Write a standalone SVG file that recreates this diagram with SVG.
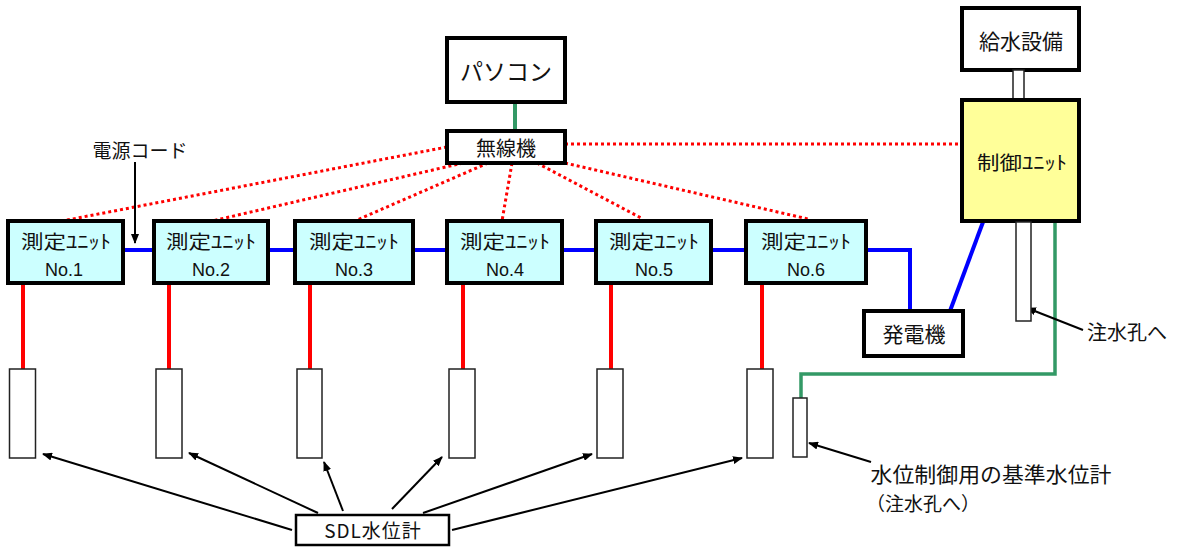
<svg xmlns="http://www.w3.org/2000/svg" width="1178" height="547" viewBox="0 0 1178 547">
<defs>
<marker id="ah" markerWidth="10" markerHeight="8" refX="9" refY="4" orient="auto" markerUnits="userSpaceOnUse">
<path d="M0,0 L10,4 L0,8 Z" fill="#000"/>
</marker>
<style>
text{font-family:"Noto Sans CJK JP","Noto Sans",sans-serif;fill:#111;text-anchor:middle}
.box{fill:#fff;stroke:#000;stroke-width:4}
.unit{fill:#ccffff;stroke:#000;stroke-width:4}
.sens{fill:#fff;stroke:#222;stroke-width:1.5}
.red{stroke:#ff0000;stroke-width:4;fill:none}
.blue{stroke:#0000ff;stroke-width:4;fill:none}
.dot{stroke:#ff0000;stroke-width:3;stroke-dasharray:3 3;fill:none}
.arr{stroke:#000;stroke-width:2;fill:none;marker-end:url(#ah)}
.ut{font-size:19px}
.un{font-size:18px;font-family:"Liberation Sans",Arial,sans-serif}
</style>
</defs>
<rect width="1178" height="547" fill="#fff"/>

<g id="connectors">
<line x1="515" y1="102" x2="515" y2="131" stroke="#339966" stroke-width="4"/>
<line class="dot" x1="447" y1="147" x2="62" y2="221"/>
<line class="dot" x1="463" y1="163" x2="212" y2="221"/>
<line class="dot" x1="488" y1="163" x2="357" y2="220"/>
<line class="dot" x1="512" y1="163" x2="502" y2="221"/>
<line class="dot" x1="537" y1="163" x2="643" y2="219"/>
<line class="dot" x1="565" y1="163" x2="808" y2="219"/>
<line class="dot" x1="565" y1="144" x2="962" y2="144"/>
<line class="blue" x1="123" y1="250" x2="154" y2="250"/>
<line class="blue" x1="268" y1="250" x2="295" y2="250"/>
<line class="blue" x1="413" y1="250" x2="447" y2="250"/>
<line class="blue" x1="562" y1="250" x2="596" y2="250"/>
<line class="blue" x1="711" y1="250" x2="746" y2="250"/>
<polyline class="blue" points="866,250 910,250 910,311"/>
<line class="blue" x1="950" y1="311" x2="983" y2="222"/>
<line class="red" x1="23" y1="283" x2="23" y2="369"/>
<line class="red" x1="169" y1="283" x2="169" y2="369"/>
<line class="red" x1="310" y1="283" x2="310" y2="369"/>
<line class="red" x1="463" y1="283" x2="463" y2="369"/>
<line class="red" x1="611" y1="283" x2="611" y2="369"/>
<line class="red" x1="762" y1="283" x2="762" y2="369"/>
<polyline points="1055,222 1055,374 801,374 801,398" fill="none" stroke="#339966" stroke-width="3.5"/>
<line class="arr" x1="135" y1="162" x2="135" y2="243"/>
<line class="arr" x1="292" y1="530" x2="43" y2="454"/>
<line class="arr" x1="318" y1="513" x2="189" y2="453"/>
<line class="arr" x1="343" y1="511" x2="324" y2="462"/>
<line class="arr" x1="392" y1="509" x2="442" y2="457"/>
<line class="arr" x1="423" y1="513" x2="592" y2="454"/>
<line class="arr" x1="452" y1="530" x2="742" y2="458"/>
<line class="arr" x1="871" y1="462" x2="809" y2="443"/>
<line class="arr" x1="1083" y1="330" x2="1027" y2="308"/>
</g>

<g id="pc"><rect class="box" x="447" y="38" width="118" height="64"/><text x="506" y="80" font-size="23">パソコン</text></g>
<g id="wireless"><rect class="box" x="447" y="131" width="118" height="32"/><text x="506" y="156" font-size="20">無線機</text></g>
<g id="water-supply"><rect class="box" x="962" y="8" width="117" height="62"/><text x="1021" y="49" font-size="21">給水設備</text></g>
<g id="pipe"><rect x="1013" y="70" width="11" height="30" fill="#fff" stroke="#222" stroke-width="1.5"/></g>
<g id="control"><rect x="962" y="100" width="117" height="121" fill="#ffff99" stroke="#000" stroke-width="4"/><text x="1022" y="170" font-size="19" textLength="90" lengthAdjust="spacingAndGlyphs">制御ﾕﾆｯﾄ</text></g>
<g id="inject-pipe"><rect x="1016" y="222" width="15" height="99" fill="#fff" stroke="#222" stroke-width="1.5"/></g>
<g id="generator"><rect class="box" x="864" y="311" width="99" height="45"/><text x="914" y="342" font-size="21">発電機</text></g>

<g id="unit1"><rect class="unit" x="8" y="221" width="115" height="62"/><text class="ut" x="66" y="249" textLength="90" lengthAdjust="spacingAndGlyphs">測定ﾕﾆｯﾄ</text><text class="un" x="64" y="276">No.1</text></g>
<g id="unit2"><rect class="unit" x="154" y="221" width="114" height="62"/><text class="ut" x="211" y="249" textLength="90" lengthAdjust="spacingAndGlyphs">測定ﾕﾆｯﾄ</text><text class="un" x="211" y="276">No.2</text></g>
<g id="unit3"><rect class="unit" x="295" y="221" width="118" height="62"/><text class="ut" x="354" y="249" textLength="90" lengthAdjust="spacingAndGlyphs">測定ﾕﾆｯﾄ</text><text class="un" x="354" y="276">No.3</text></g>
<g id="unit4"><rect class="unit" x="447" y="221" width="115" height="62"/><text class="ut" x="505" y="249" textLength="90" lengthAdjust="spacingAndGlyphs">測定ﾕﾆｯﾄ</text><text class="un" x="505" y="276">No.4</text></g>
<g id="unit5"><rect class="unit" x="596" y="221" width="115" height="62"/><text class="ut" x="654" y="249" textLength="90" lengthAdjust="spacingAndGlyphs">測定ﾕﾆｯﾄ</text><text class="un" x="654" y="276">No.5</text></g>
<g id="unit6"><rect class="unit" x="746" y="221" width="120" height="62"/><text class="ut" x="806" y="249" textLength="90" lengthAdjust="spacingAndGlyphs">測定ﾕﾆｯﾄ</text><text class="un" x="806" y="276">No.6</text></g>

<g id="sdl1"><rect class="sens" x="9.5" y="369" width="26" height="89"/></g>
<g id="sdl2"><rect class="sens" x="156" y="369" width="26" height="89"/></g>
<g id="sdl3"><rect class="sens" x="297" y="369" width="25" height="89"/></g>
<g id="sdl4"><rect class="sens" x="449" y="369" width="26" height="89"/></g>
<g id="sdl5"><rect class="sens" x="597" y="369" width="26" height="89"/></g>
<g id="sdl6"><rect class="sens" x="747" y="369" width="26" height="89"/></g>
<g id="ref-gauge"><rect class="sens" x="793" y="398" width="14" height="59"/></g>

<g id="sdl-label"><rect x="296" y="515" width="153" height="30" fill="#fff" stroke="#000" stroke-width="2.5"/><text x="373" y="538" font-size="19" font-family="'Liberation Sans','Noto Sans CJK JP',sans-serif" letter-spacing="1">SDL水位計</text></g>
<g id="cord-label"><text x="140" y="158" font-size="19">電源コード</text></g>
<g id="inject-label"><text x="1127" y="340" font-size="20">注水孔へ</text></g>
<g id="ref-label"><text x="991" y="482" font-size="21" textLength="241" lengthAdjust="spacingAndGlyphs">水位制御用の基準水位計</text><text x="866" y="511" font-size="19" style="text-anchor:start">（注水孔へ）</text></g>
</svg>
